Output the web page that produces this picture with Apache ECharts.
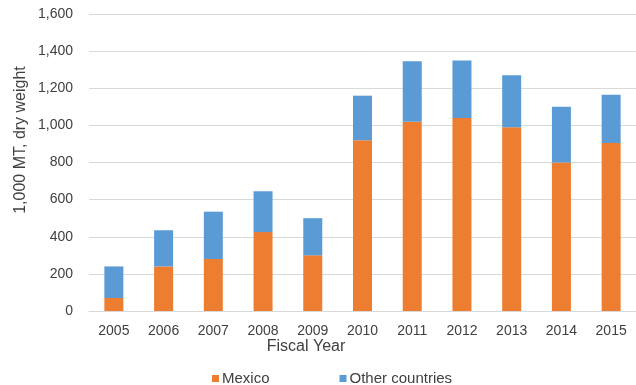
<!DOCTYPE html>
<html>
<head>
<meta charset="utf-8">
<script src="https://cdn.jsdelivr.net/npm/echarts@6/dist/echarts.min.js"></script>
<style>
  html, body { margin: 0; padding: 0; background: #fff; }
  #main { width: 636px; height: 385px; }
</style>
</head>
<body>
<div id="main"></div>
<script>
var years = ['2005', '2006', '2007', '2008', '2009', '2010', '2011', '2012', '2013', '2014', '2015'];
var mexico = [70, 240, 280, 425, 300, 920, 1020, 1040, 990, 800, 905];
var otherCountries = [170, 195, 255, 220, 200, 240, 325, 310, 280, 300, 260];
var yTicks = [0, 200, 400, 600, 800, 1000, 1200, 1400, 1600];

var font = '"Liberation Sans Narrow", "Arial Narrow", "Liberation Sans", sans-serif';
var textColor = '#404040';

var myChart = echarts.init(document.getElementById('main'));

var option = {
    animation: false,
    textStyle: { fontFamily: font },
    grid: {
        left: 89,
        top: 14,
        width: 550,
        bottom: 74
    },
    legend: {
        data: ['Mexico', 'Other countries'],
        left: 207,
        top: 366,
        itemWidth: 7,
        itemHeight: 7,
        itemGap: 70,
        icon: 'rect',
        textStyle: { fontFamily: font, fontSize: 15, color: textColor, padding: [0, 0, 0, -2] }
    },
    xAxis: {
        type: 'category',
        data: years,
        axisLine: { lineStyle: { color: '#d9d9d9' } },
        axisTick: { show: false },
        axisLabel: { fontFamily: font, fontSize: 14, color: textColor, margin: 13 }
    },
    yAxis: {
        type: 'value',
        min: yTicks[0],
        max: yTicks[yTicks.length - 1],
        interval: 200,
        axisLine: { show: false },
        axisTick: { show: false },
        splitLine: { lineStyle: { color: '#d9d9d9' } },
        axisLabel: {
            fontFamily: font, fontSize: 14, color: textColor, margin: 16,
            formatter: function (v) { return v.toLocaleString('en-US'); }
        }
    },
    graphic: [
        {
            type: 'text',
            x: 21,
            y: 140,
            rotation: Math.PI / 2,
            style: {
                text: '1,000 MT, dry weight',
                font: '16px ' + font,
                fill: textColor,
                textAlign: 'center',
                textVerticalAlign: 'middle'
            }
        },
        {
            type: 'text',
            x: 306,
            y: 347,
            style: {
                text: 'Fiscal Year',
                font: '16px ' + font,
                fill: textColor,
                textAlign: 'center',
                textVerticalAlign: 'middle'
            }
        }
    ],
    series: [
        {
            name: 'Mexico',
            type: 'bar',
            stack: 'total',
            barWidth: 19,
            itemStyle: { color: '#ED7D31' },
            data: mexico
        },
        {
            name: 'Other countries',
            type: 'bar',
            stack: 'total',
            barWidth: 19,
            itemStyle: { color: '#5B9BD5' },
            data: otherCountries
        }
    ]
};

myChart.setOption(option);
</script>
</body>
</html>
